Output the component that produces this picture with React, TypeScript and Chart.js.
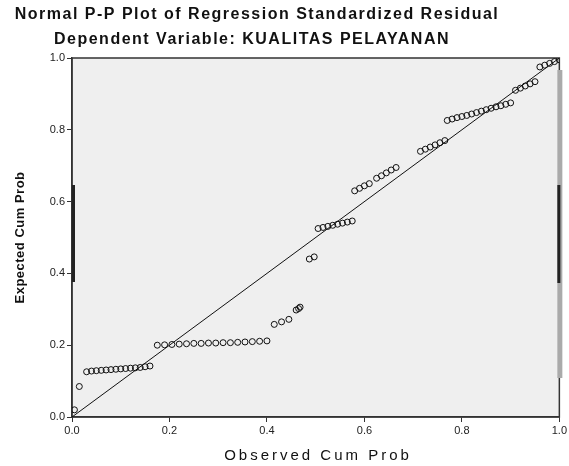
import React, { useEffect, useRef } from "react";
import { Chart, registerables } from "chart.js";

Chart.register(...registerables);

const titleLines = [
  "Normal P-P Plot of Regression Standardized Residual",
  "Dependent Variable: KUALITAS PELAYANAN",
];
const xTitle = "Observed Cum Prob";
const yTitle = "Expected Cum Prob";

const observed = [
  0.005, 0.015,
  0.03, 0.04, 0.05, 0.06, 0.07, 0.08, 0.09, 0.1, 0.11, 0.12, 0.13, 0.14, 0.15, 0.16,
  0.175, 0.19, 0.205, 0.22, 0.235, 0.25, 0.265, 0.28, 0.295, 0.31, 0.325, 0.34, 0.355, 0.37, 0.385, 0.4,
  0.415, 0.43, 0.445,
  0.46, 0.465, 0.468,
  0.487, 0.497,
  0.505, 0.515, 0.525, 0.535, 0.545, 0.555, 0.565, 0.575,
  0.58, 0.59, 0.6, 0.61,
  0.625, 0.635, 0.645, 0.655, 0.665,
  0.715, 0.725, 0.735, 0.745, 0.755, 0.765,
  0.77, 0.78, 0.79, 0.8, 0.81, 0.82, 0.83, 0.84, 0.85, 0.86, 0.87, 0.88, 0.89, 0.9,
  0.91, 0.92, 0.93, 0.94, 0.95,
  0.96, 0.97, 0.98, 0.99, 1.0,
];
const expected = [
  0.02, 0.085,
  0.126, 0.128, 0.129, 0.13, 0.131, 0.132, 0.133, 0.134, 0.135, 0.136, 0.137, 0.138, 0.14, 0.142,
  0.2, 0.201, 0.202, 0.203, 0.204, 0.205, 0.205, 0.206, 0.206, 0.207, 0.207, 0.208, 0.209, 0.21, 0.211, 0.212,
  0.258, 0.265, 0.272,
  0.298, 0.302, 0.306,
  0.44, 0.446,
  0.525, 0.528, 0.531, 0.534, 0.537, 0.54, 0.543, 0.546,
  0.63, 0.637, 0.644, 0.65,
  0.665, 0.672, 0.68, 0.688, 0.695,
  0.74, 0.746, 0.752, 0.758, 0.764, 0.77,
  0.826, 0.83, 0.834, 0.837, 0.84, 0.844, 0.848, 0.852, 0.856, 0.86, 0.864, 0.867, 0.871, 0.875,
  0.91, 0.916, 0.922, 0.928, 0.934,
  0.975, 0.98, 0.985, 0.99, 0.995,
];
const refLine = [0, 1];
const tickStep = 0.2;

export default function App() {
  const ref = useRef<HTMLCanvasElement | null>(null);

  useEffect(() => {
    document.body.style.margin = "0";
    document.body.style.background = "#ffffff";
    const canvas = ref.current;
    if (!canvas) return;

    const points = observed.map((x, i) => ({ x, y: expected[i] }));
    const linePts = refLine.map((v) => ({ x: v, y: v }));

    const decor = {
      id: "decor",
      beforeDraw(chart: any) {
        const { ctx, chartArea: a } = chart;
        ctx.save();
        ctx.fillStyle = "#ffffff";
        ctx.fillRect(0, 0, chart.width, chart.height);
        ctx.fillStyle = "#efefef";
        ctx.fillRect(a.left, a.top, a.right - a.left, a.bottom - a.top);
        ctx.restore();
      },
      beforeDatasetsDraw(chart: any) {
        const { ctx, chartArea: a } = chart;
        ctx.save();
        ctx.strokeStyle = "#333333";
        ctx.lineWidth = 1.5;
        ctx.strokeRect(a.left, a.top, a.right - a.left, a.bottom - a.top);
        // frame artifacts seen on the borders of the original screenshot
        ctx.fillStyle = "#aaaaaa";
        ctx.fillRect(a.right - 2, a.top + 12, 5, 308);
        ctx.fillStyle = "#222222";
        ctx.fillRect(a.right - 2, 185, 3, 98);
        ctx.fillRect(a.left, 185, 3, 97);
        ctx.restore();
      },
      afterDraw(chart: any) {
        const { ctx, chartArea: a } = chart;
        ctx.save();
        ctx.fillStyle = "#111111";
        ctx.textAlign = "center";
        ctx.textBaseline = "middle";
        ctx.font = 'bold 16px "Liberation Sans"';
        (ctx as any).letterSpacing = "1.5px";
        ctx.fillText(titleLines[0], 257, 15);
        ctx.fillText(titleLines[1], 252, 40);
        ctx.font = '15px "Liberation Sans"';
        (ctx as any).letterSpacing = "3px";
        ctx.fillText(xTitle, 318, 456);
        ctx.font = 'bold 13px "Liberation Sans"';
        (ctx as any).letterSpacing = "0.5px";
        ctx.translate(20, (a.top + a.bottom) / 2);
        ctx.rotate(-Math.PI / 2);
        ctx.fillText(yTitle, 0, 0);
        ctx.restore();
      },
    };

    const axisCommon = (axis: "x" | "y") => ({
      type: "linear" as const,
      min: 0,
      max: 1,
      ticks: {
        stepSize: tickStep,
        color: "#222222",
        font: { family: "Liberation Sans", size: 11 },
        padding: 2,
        callback: (v: any) => Number(v).toFixed(1),
      },
      grid: {
        display: true,
        drawOnChartArea: false,
        drawTicks: true,
        tickLength: 5,
        color: "#333333",
        lineWidth: 1,
      },
      border: { display: true, color: "#333333", width: 1.5 },
      afterFit: (scale: any) => {
        if (axis === "y") scale.width = 72;
        else scale.height = 49;
      },
    });

    const chart = new Chart(canvas, {
      type: "scatter",
      data: {
        datasets: [
          {
            type: "line",
            data: linePts,
            borderColor: "#111111",
            borderWidth: 1,
            pointRadius: 0,
            fill: false,
          } as any,
          {
            type: "scatter",
            data: points,
            borderColor: "#111111",
            backgroundColor: "rgba(0,0,0,0)",
            borderWidth: 1,
            pointRadius: 3,
            pointStyle: "circle",
          },
        ],
      },
      options: {
        responsive: false,
        animation: false,
        layout: { padding: { top: 58, right: 9, left: 0, bottom: 0 } },
        plugins: {
          legend: { display: false },
          title: { display: false },
          tooltip: { enabled: false },
        },
        scales: {
          x: axisCommon("x") as any,
          y: axisCommon("y") as any,
        },
      },
      plugins: [decor],
    });

    return () => chart.destroy();
  }, []);

  return (
    <canvas
      ref={ref}
      width={569}
      height={466}
      style={{ display: "block", width: 569, height: 466 }}
    />
  );
}
